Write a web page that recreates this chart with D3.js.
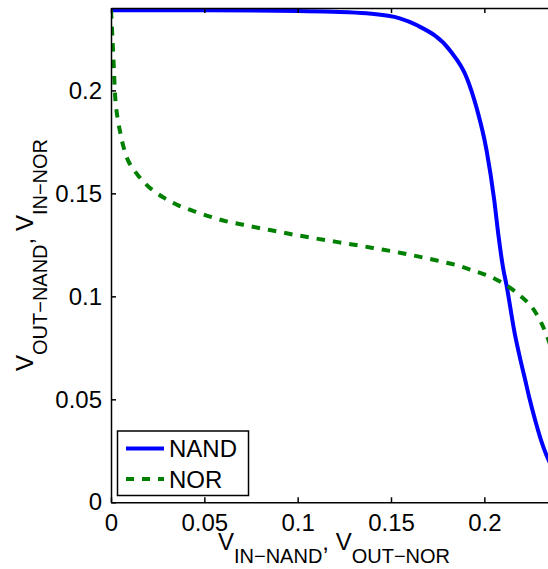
<!DOCTYPE html>
<html>
<head>
<meta charset="utf-8">
<script src="https://cdn.jsdelivr.net/npm/d3@7"></script>
<style>
  body { margin: 0; background: #fff; }
  svg { display: block; overflow: hidden; }
  text { font-family: "Liberation Sans", Arial, Helvetica, sans-serif; fill: #000; }
  .axis path, .axis line { stroke: #000; stroke-width: 1.5; }
  .axis text { font-size: 24px; }
</style>
</head>
<body>
<svg id="chart" width="548" height="569"></svg>
<script>
// NAND transfer curve (x = V_IN-NAND, y = V_OUT-NAND)
var nandX = [0, 0.05, 0.1, 0.1188, 0.1369, 0.1547, 0.1637, 0.1816, 0.1905, 0.1958, 0.2012, 0.2053, 0.2075, 0.2100, 0.2119, 0.2163, 0.2190, 0.2219, 0.2243, 0.2275, 0.2305, 0.2333, 0.2400];
var nandY = [0.2389, 0.2389, 0.2386, 0.2382, 0.2374, 0.2350, 0.2317, 0.2194, 0.2063, 0.1917, 0.1709, 0.1468, 0.1300, 0.1141, 0.1053, 0.0819, 0.0705, 0.0594, 0.0500, 0.0390, 0.0298, 0.0228, 0.0120];

// NOR transfer curve (x = V_OUT-NOR, y = V_IN-NOR)
var norX = [0, 0.0008, 0.0015, 0.0024, 0.0036, 0.0051, 0.0066, 0.0096, 0.0146, 0.0209, 0.0285, 0.0360, 0.0446, 0.0535, 0.0619, 0.0708, 0.0792, 0.0887, 0.0976, 0.1065, 0.1155, 0.1244, 0.1333, 0.1422, 0.1511, 0.1601, 0.1685, 0.1774, 0.1860, 0.1943, 0.2029, 0.2119, 0.2190, 0.2252, 0.2297, 0.2333, 0.2400];
var norY = [0.2389, 0.2250, 0.2113, 0.1950, 0.1860, 0.1790, 0.1729, 0.1651, 0.1586, 0.1526, 0.1478, 0.1442, 0.1413, 0.1386, 0.1364, 0.1348, 0.1332, 0.1316, 0.1300, 0.1286, 0.1272, 0.1259, 0.1246, 0.1232, 0.1218, 0.1202, 0.1186, 0.1168, 0.1149, 0.1124, 0.1097, 0.1053, 0.1005, 0.0951, 0.0886, 0.0813, 0.0640];

var xTicks = [0, 0.05, 0.1, 0.15, 0.2];
var xTickLabels = ["0", "0.05", "0.1", "0.15", "0.2"];
var yTicks = [0, 0.05, 0.1, 0.15, 0.2];
var yTickLabels = ["0", "0.05", "0.1", "0.15", "0.2"];
var seriesNames = ["NAND", "NOR"];

var plot = { left: 111, top: 8, right: 559, bottom: 502.3 };

var x = d3.scaleLinear().domain([0, 0.24]).range([plot.left, plot.right]);
var y = d3.scaleLinear().domain([0, 0.24]).range([plot.bottom, plot.top]);

var svg = d3.select("#chart");

svg.append("defs").append("clipPath")
  .attr("id", "clip")
  .append("rect")
  .attr("x", plot.left)
  .attr("y", plot.top)
  .attr("width", plot.right - plot.left)
  .attr("height", plot.bottom - plot.top);

var line = d3.line()
  .x(function(d) { return x(d[0]); })
  .y(function(d) { return y(d[1]); })
  .curve(d3.curveMonotoneX);

var curves = svg.append("g").attr("clip-path", "url(#clip)");

curves.append("path")
  .datum(d3.zip(nandX, nandY))
  .attr("d", line)
  .attr("fill", "none")
  .attr("stroke", "#0000ff")
  .attr("stroke-width", 4);

curves.append("path")
  .datum(d3.zip(norX, norY))
  .attr("d", d3.line().x(function(d) { return x(d[0]); }).y(function(d) { return y(d[1]); }).curve(d3.curveCatmullRom))
  .attr("fill", "none")
  .attr("stroke", "#008000")
  .attr("stroke-width", 4)
  .attr("stroke-dasharray", "8.5,8");

// axes, ticks pointing inward like matlab
function fmt(ticks, labels) {
  return function(d) { return labels[ticks.indexOf(d)]; };
}

svg.append("g")
  .attr("class", "axis")
  .attr("transform", "translate(0," + plot.bottom + ")")
  .call(d3.axisBottom(x).tickValues(xTicks).tickFormat(fmt(xTicks, xTickLabels))
    .tickSizeInner(-5).tickSizeOuter(0).tickPadding(12));

svg.append("g")
  .attr("class", "axis")
  .attr("transform", "translate(0," + plot.top + ")")
  .call(d3.axisTop(x).tickValues(xTicks).tickFormat("")
    .tickSizeInner(-5).tickSizeOuter(0));

svg.append("g")
  .attr("class", "axis")
  .attr("transform", "translate(" + plot.left + ",0)")
  .call(d3.axisLeft(y).tickValues(yTicks).tickFormat(fmt(yTicks, yTickLabels))
    .tickSizeInner(-5).tickSizeOuter(0).tickPadding(9));

svg.append("g")
  .attr("class", "axis")
  .attr("transform", "translate(" + plot.right + ",0)")
  .call(d3.axisRight(y).tickValues(yTicks).tickFormat("")
    .tickSizeInner(-5).tickSizeOuter(0));

// axis labels
var xl = svg.append("text")
  .attr("x", 334)
  .attr("y", 550)
  .attr("text-anchor", "middle")
  .style("font-size", "24px");
xl.append("tspan").text("V");
xl.append("tspan").attr("dy", 13).style("font-size", "20px").text("IN\u2212NAND");
xl.append("tspan").attr("dy", -13).text(", V");
xl.append("tspan").attr("dy", 13).style("font-size", "20px").text("OUT\u2212NOR");

var yl = svg.append("text")
  .attr("transform", "translate(33,255) rotate(-90)")
  .attr("text-anchor", "middle")
  .style("font-size", "24px");
yl.append("tspan").text("V");
yl.append("tspan").attr("dy", 14).style("font-size", "20px").text("OUT\u2212NAND");
yl.append("tspan").attr("dy", -14).text(", V");
yl.append("tspan").attr("dy", 14).style("font-size", "20px").text("IN\u2212NOR");

// legend
var legend = svg.append("g");
legend.append("rect")
  .attr("x", 117.5).attr("y", 431)
  .attr("width", 131).attr("height", 64.5)
  .attr("fill", "#fff")
  .attr("stroke", "#000")
  .attr("stroke-width", 1.5);

var legendStyle = [
  { color: "#0000ff", dash: null, y: 448.5 },
  { color: "#008000", dash: "8,8", y: 479 }
];

seriesNames.forEach(function(name, i) {
  var s = legendStyle[i];
  legend.append("line")
    .attr("x1", 126).attr("x2", 164)
    .attr("y1", s.y).attr("y2", s.y)
    .attr("stroke", s.color)
    .attr("stroke-width", 4)
    .attr("stroke-dasharray", s.dash);
  legend.append("text")
    .attr("x", 169)
    .attr("y", s.y + 8.5)
    .style("font-size", "24px")
    .text(name);
});
</script>
</body>
</html>
